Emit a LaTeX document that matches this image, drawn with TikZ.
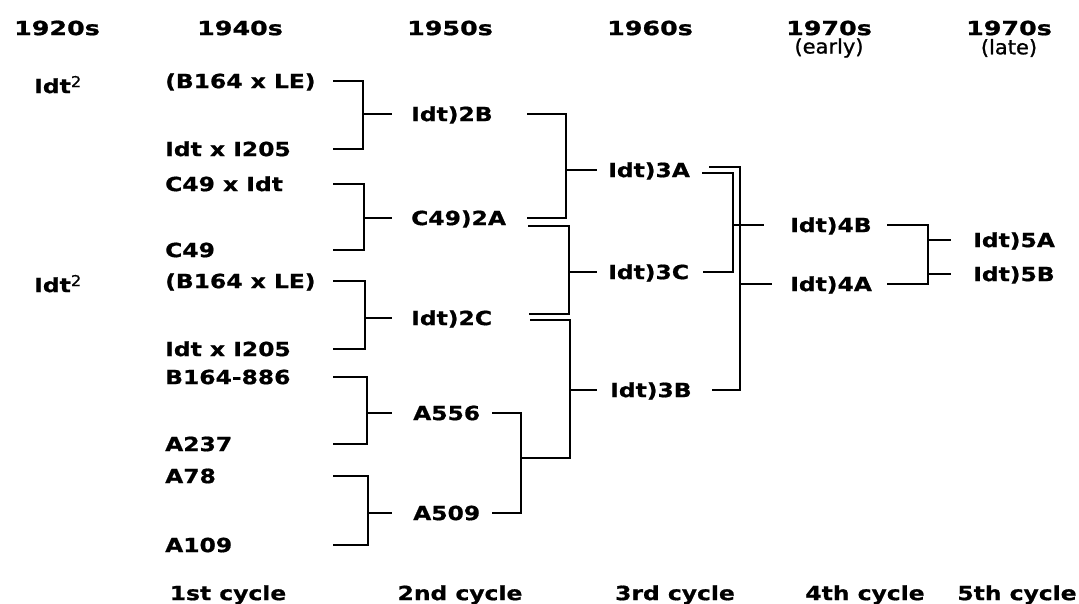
\documentclass[tikz,border=0pt]{standalone}
\usepackage{fontspec}
\newfontfamily\labf{DejaVu Sans}[UprightFont=* Bold,FakeStretch=1.2,FakeBold=0.8]
\newfontfamily\hdrf{DejaVu Sans}[UprightFont=* Bold,FakeStretch=1.3,FakeBold=1]
\newfontfamily\subff{DejaVu Sans}[FakeStretch=1.05,FakeBold=1]
\newfontfamily\supf{DejaVu Sans}[FakeStretch=1.1,FakeBold=0.6]
\begin{document}
\begin{tikzpicture}[x=1pt,y=-1pt,
  lab/.style={font=\labf\fontsize{19.5}{22}\selectfont, inner sep=0pt, anchor=west, text height=14.2pt, text depth=0pt},
  hdr/.style={font=\hdrf\fontsize{19.5}{22}\selectfont, inner sep=0pt, text height=14.2pt, text depth=0pt},
  subl/.style={font=\subff\fontsize{20}{22}\selectfont, inner sep=0pt},
  foot/.style={lab, anchor=center},
  ln/.style={line width=2pt}]
\fill[white] (0,0) rectangle (1079,603);
\useasboundingbox (0,0) rectangle (1079,603);
% headers
\node[hdr] (h1) at (57,28) {1920s};
\node[hdr] (h2) at (240,28) {1940s};
\node[hdr] (h3) at (450,28) {1950s};
\node[hdr] (h4) at (650,28) {1960s};
\node[hdr] (h5) at (829,28) {1970s};
\node[hdr] (h6) at (1009,28) {1970s};
\node[subl] (s5) at (829,48) {(early)};
\node[subl] (s6) at (1009,48) {(late)};
% 1920s
\node[lab] (p1) at (34,86) {Idt\raisebox{6pt}{\supf\fontsize{15}{16}\selectfont 2}};
\node[lab] (p2) at (34,285) {Idt\raisebox{6pt}{\supf\fontsize{15}{16}\selectfont 2}};
% 1940s
\node[lab] (a1) at (165,81) {(B164 x LE)};
\node[lab] (a2) at (165,149) {Idt x I205};
\node[lab] (a3) at (165,184) {C49 x Idt};
\node[lab] (a4) at (165,250) {C49};
\node[lab] (a5) at (165,281) {(B164 x LE)};
\node[lab] (a6) at (165,349) {Idt x I205};
\node[lab] (a7) at (165,377) {B164-886};
\node[lab] (a8) at (165,444) {A237};
\node[lab] (a9) at (165,476) {A78};
\node[lab] (a10) at (165,545) {A109};
% 1950s
\node[lab] (b1) at (411,114) {Idt)2B};
\node[lab] (b2) at (411,218) {C49)2A};
\node[lab] (b3) at (411,318) {Idt)2C};
\node[lab] (b4) at (413,413) {A556};
\node[lab] (b5) at (413,513) {A509};
% 1960s
\node[lab] (c1) at (608,170) {Idt)3A};
\node[lab] (c2) at (608,272) {Idt)3C};
\node[lab] (c3) at (610,390) {Idt)3B};
% 1970s early
\node[lab] (d1) at (790,225) {Idt)4B};
\node[lab] (d2) at (790,284) {Idt)4A};
% 1970s late
\node[lab] (e1) at (973,240) {Idt)5A};
\node[lab] (e2) at (973,274) {Idt)5B};
% footers
\node[foot] (f1) at (228,593) {1st cycle};
\node[foot] (f2) at (460,593) {2nd cycle};
\node[foot] (f3) at (675,593) {3rd cycle};
\node[foot] (f4) at (865,593) {4th cycle};
\node[foot] (f5) at (1017,593) {5th cycle};
% 1st cycle brackets
\coordinate (sA) at (333,0);
\coordinate (jA1) at (363,114);
\coordinate (jA2) at (364,218);
\coordinate (jA3) at (365,318);
\coordinate (jA4) at (367,413);
\coordinate (jA5) at (368,513);
\draw[ln] (a1 -| sA) -| (jA1) |- (a2 -| sA);
\draw[ln] (a3 -| sA) -| (jA2) |- (a4 -| sA);
\draw[ln] (a5 -| sA) -| (jA3) |- (a6 -| sA);
\draw[ln] (a7 -| sA) -| (jA4) |- (a8 -| sA);
\draw[ln] (a9 -| sA) -| (jA5) |- (a10 -| sA);
\draw[ln,shorten >=19pt] (jA1) -- (b1.west);
\draw[ln,shorten >=19pt] (jA2) -- (b2.west);
\draw[ln,shorten >=19pt] (jA3) -- (b3.west);
\draw[ln,shorten >=21pt] (jA4) -- (b4.west);
\draw[ln,shorten >=21pt] (jA5) -- (b5.west);
% 2nd cycle brackets
\coordinate (rB) at (527,0);
\coordinate (rB2) at (492,0);
\coordinate (jC1) at (566,170);
\draw[ln] (b1 -| rB) -| (jC1) |- (b2 -| rB);
\draw[ln,shorten >=11pt] (jC1) -- (c1.west);
\coordinate (b2lo) at (528,226);
\coordinate (b3up) at (529,314);
\coordinate (jC2) at (569,272);
\draw[ln] (b2lo) -| (jC2) |- (b3up);
\draw[ln,shorten >=11pt] (jC2) -- (c2.west);
\coordinate (b3lo) at (530,320);
\coordinate (jC3) at (570,390);
\coordinate (jA6) at (521,458);
\draw[ln] (b3lo) -| (jC3) |- (jA6);
\draw[ln,shorten >=13pt] (jC3) -- (c3.west);
\draw[ln] (b4 -| rB2) -| (jA6) |- (b5 -| rB2);
% 3rd cycle brackets
\coordinate (c1up) at (709,167);
\coordinate (c1lo) at (702,173);
\coordinate (c2r) at (703,0);
\coordinate (c3r) at (712,0);
\coordinate (jD1) at (733,225);
\coordinate (jD2) at (740,284);
\draw[ln] (c1up) -| (jD2) |- (c3 -| c3r);
\draw[ln] (c1lo) -| (jD1) |- (c2 -| c2r);
\draw[ln,shorten >=26pt] (jD1) -- (d1.west);
\draw[ln,shorten >=18pt] (jD2) -- (d2.west);
% 4th cycle bracket
\coordinate (rD) at (887,0);
\coordinate (jE1) at (928,240);
\coordinate (jE2) at (928,274);
\draw[ln] (d1 -| rD) -| (jE1) |- (d2 -| rD);
\draw[ln,shorten >=22pt] (jE1) -- (e1.west);
\draw[ln,shorten >=22pt] (jE2) -- (e2.west);
\end{tikzpicture}
\end{document}
